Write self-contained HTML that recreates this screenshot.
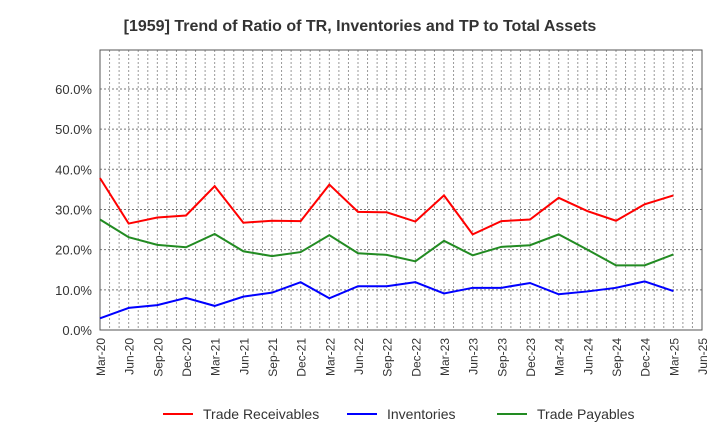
<!DOCTYPE html>
<html><head><meta charset="utf-8"><style>
body{margin:0;background:#fff;font-family:"Liberation Sans",sans-serif}
</style></head><body>
<svg id="c" width="720" height="440" xmlns="http://www.w3.org/2000/svg" font-family="Liberation Sans, sans-serif"></svg>
<script>
const categories=["Mar-20","Jun-20","Sep-20","Dec-20","Mar-21","Jun-21","Sep-21","Dec-21","Mar-22","Jun-22","Sep-22","Dec-22","Mar-23","Jun-23","Sep-23","Dec-23","Mar-24","Jun-24","Sep-24","Dec-24","Mar-25","Jun-25"];
const tradeReceivables=[37.8,26.5,28,28.5,35.8,26.7,27.2,27.1,36.2,29.4,29.3,27,33.5,23.8,27.1,27.5,32.9,29.6,27.2,31.3,33.5];
const inventories=[2.9,5.5,6.2,8,6,8.3,9.3,11.9,7.9,10.9,10.9,11.9,9.1,10.5,10.5,11.7,8.9,9.6,10.5,12.1,9.7];
const tradePayables=[27.5,23.1,21.2,20.6,23.9,19.6,18.4,19.4,23.6,19.1,18.7,17.1,22.2,18.6,20.7,21.1,23.8,20,16.1,16.1,18.8];
const yTicks=[0,10,20,30,40,50,60];
const svg=document.getElementById('c');const NS="http://www.w3.org/2000/svg";
const L=100,R=702,T=50,B=330;
const x=i=>L+i*(R-L)/(categories.length-1);
const y=v=>B-v*(B-T)/69.7;
function mk(t,a,p){const e=document.createElementNS(NS,t);for(const k in a)e.setAttribute(k,a[k]);(p||svg).appendChild(e);return e;}
let t=mk('text',{x:360,y:31,'text-anchor':'middle','font-size':16,'font-weight':'bold',fill:'#333'});t.textContent="[1959]  Trend of Ratio of TR, Inventories and TP to Total Assets";

for(let m=0;m<=(categories.length-1)*3;m++){const xx=L+m*(R-L)/((categories.length-1)*3);
const g=mk('line',{x1:xx,x2:xx,y1:T,y2:B,stroke:'#999','stroke-dasharray':'2,2','stroke-width':1});
}
yTicks.forEach(v=>{const g=mk('line',{x1:L,x2:R,y1:y(v),y2:y(v),stroke:'#777','stroke-dasharray':'2,2'});

const l=mk('text',{x:L-8,y:y(v)+5,'text-anchor':'end','font-size':13,fill:'#333'});l.textContent=v.toFixed(1)+'%';
});
const fr=mk('rect',{x:L,y:T,width:R-L,height:B-T,fill:'none',stroke:'#555'});

categories.forEach((c,i)=>{const l=mk('text',{transform:`translate(${x(i)+5},${B+8}) rotate(-90)`,'text-anchor':'end','font-size':12,fill:'#333'});l.textContent=c;
});
const series=[[tradeReceivables,'#ff0000','Trade Receivables','trade-receivables-line'],[inventories,'#0000ff','Inventories','inventories-line'],[tradePayables,'#228b22','Trade Payables','trade-payables-line']];
series.forEach(s=>{const p=mk('polyline',{points:s[0].map((v,i)=>x(i)+','+y(v)).join(' '),fill:'none',stroke:s[1],'stroke-width':2});
});
const lx=[163,347,497];
series.forEach((s,i)=>{const g=mk('g',{});
mk('line',{x1:lx[i],x2:lx[i]+30,y1:414,y2:414,stroke:s[1],'stroke-width':2},g);
const l=mk('text',{x:lx[i]+40,y:419,'font-size':14,fill:'#333'},g);l.textContent=s[2];});
</script></body></html>
